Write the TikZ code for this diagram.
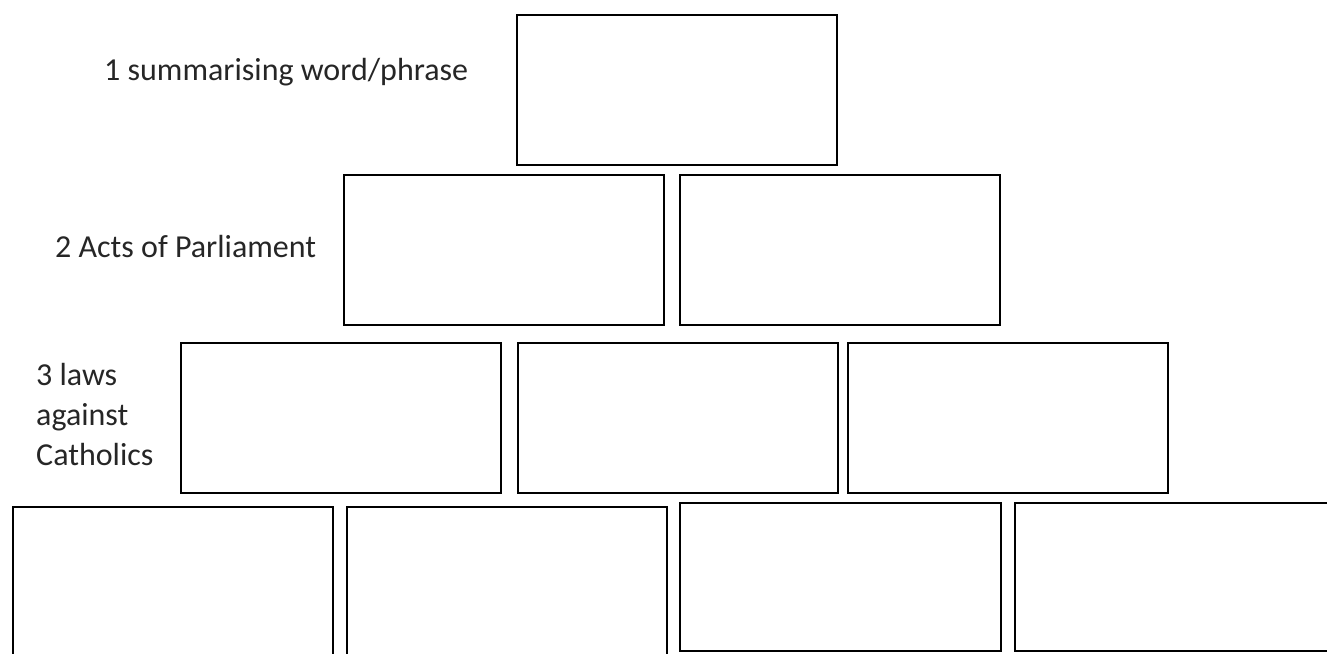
\documentclass[tikz,border=0pt]{standalone}
\usepackage{fontspec}
\setmainfont{Carlito}
\usepackage{tikz}
\usetikzlibrary{positioning}

\begin{document}
\begin{tikzpicture}[x=1pt, y=-1pt,
  cell/.style={draw, line width=2.4pt, anchor=north west, inner sep=0pt,
    minimum width=320pt, minimum height=150pt},
  tall/.style={cell, minimum height=170pt},
  tag/.style={font=\fontsize{32}{40}\selectfont, anchor=base west, inner sep=0pt,
    align=left, text=black!85},
]
  \clip (0,0) rectangle (1327,653);
  \useasboundingbox (0,0) rectangle (1327,653);

  % Row 1
  \node[cell] (T) at (516,14) {};
  % Row 2
  \node[cell] (A1) at (343,174) {};
  \node[cell] (A2) at (679,174) {};
  % Row 3
  \node[cell] (L1) at (180,342) {};
  \node[cell] (L2) at (517,342) {};
  \node[cell] (L3) at (847,342) {};
  % Row 4
  \node[tall] (B1) at (12,506) {};
  \node[tall] (B2) at (346,506) {};
  \node[cell, minimum width=321pt, minimum height=148pt] (B3) at (679,502) {};
  \node[cell, minimum width=330pt, minimum height=148pt] (B4) at (1014,502) {};

  % Labels
  \node[tag] (t1) at (104,80) {1 summarising word/phrase};
  \node[tag] (t2) at (55,257) {2 Acts of Parliament};
  \node[tag] (t3) at (36,465) {3 laws\\against\\Catholics};
\end{tikzpicture}
\end{document}
